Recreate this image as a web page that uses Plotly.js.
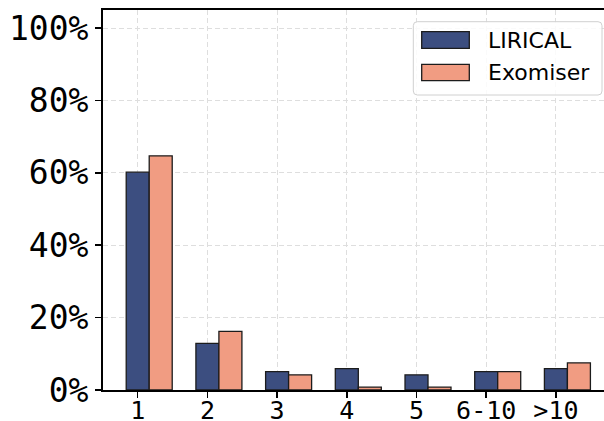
<!DOCTYPE html>
<html>
<head>
<meta charset="utf-8">
<script src="https://cdn.plot.ly/plotly-3.0.1.min.js"></script>
<style>html,body{margin:0;padding:0;background:#fff;}#chart{width:604px;height:421px;}</style>
</head>
<body>
<div id="chart"></div>
<script>
const categories = ["1", "2", "3", "4", "5", "6-10", ">10"];
const liricalName = "LIRICAL";
const exomiserName = "Exomiser";
const liricalValues = [60.2, 12.9, 5.1, 5.9, 4.2, 5.1, 5.9];
const exomiserValues = [64.7, 16.2, 4.2, 0.8, 0.8, 5.1, 7.5];
const yTickValues = [0, 20, 40, 60, 80, 100];
const yTickLabels = ["0%", "20%", "40%", "60%", "80%", "100%"];

const navy = "#3c4e80";
const salmon = "#f19c82";
const edge = "#1c1c1c";

const traces = [
  {type: "bar", name: liricalName, x: categories, y: liricalValues,
   offset: -0.165, width: 0.33,
   marker: {color: navy, line: {color: edge, width: 1.3}}},
  {type: "bar", name: exomiserName, x: categories, y: exomiserValues,
   offset: 0.165, width: 0.33,
   marker: {color: salmon, line: {color: edge, width: 1.3}}}
];

// plot area in pixels
const L = 103, R = 604, T = 10, B = 390;
const px = v => (v - L) / (R - L);
const py = v => (B - v) / (B - T);

function roundRect(x0, y0, x1, y1, r) {
  const rx = r / (R - L), ry = r / (B - T);
  const a = px(x0), b = px(x1), top = py(y0), bot = py(y1);
  return `M${a+rx},${top} L${b-rx},${top} Q${b},${top} ${b},${top-ry} L${b},${bot+ry} Q${b},${bot} ${b-rx},${bot} L${a+rx},${bot} Q${a},${bot} ${a},${bot+ry} L${a},${top-ry} Q${a},${top} ${a+rx},${top} Z`;
}

const shapes = [
  {type: "path", xref: "paper", yref: "paper", path: roundRect(413.3, 21.7, 602, 95, 4),
   fillcolor: "rgba(255,255,255,0.85)", line: {color: "#d0d0d0", width: 1}, layer: "above"},
  {type: "rect", xref: "paper", yref: "paper", x0: px(421.7), x1: px(469.3), y0: py(31.7), y1: py(48.3),
   fillcolor: navy, line: {color: edge, width: 1.3}, layer: "above"},
  {type: "rect", xref: "paper", yref: "paper", x0: px(421.7), x1: px(469.3), y0: py(64.3), y1: py(80.7),
   fillcolor: salmon, line: {color: edge, width: 1.3}, layer: "above"}
];

const annotations = [
  {xref: "paper", yref: "paper", x: px(486), y: py(40), xanchor: "left", yanchor: "middle",
   text: liricalName, showarrow: false, font: {family: "DejaVu Sans", size: 22, color: "#000"}},
  {xref: "paper", yref: "paper", x: px(486), y: py(72.5), xanchor: "left", yanchor: "middle",
   text: exomiserName, showarrow: false, font: {family: "DejaVu Sans", size: 22, color: "#000"}}
];

const layout = {
  width: 604, height: 421,
  margin: {l: L, r: 604 - R, t: T, b: 421 - B, pad: 0},
  paper_bgcolor: "#fff", plot_bgcolor: "#fff",
  barmode: "overlay",
  showlegend: false,
  xaxis: {
    type: "category", range: [-0.498, 6.69],
    showline: true, linecolor: "#000", linewidth: 2, mirror: true,
    ticks: "outside", ticklen: 6, tickwidth: 1.5, tickcolor: "#000",
    ticklabelstandoff: -9,
    showgrid: true, gridcolor: "#dedede", griddash: "5px,3px", gridwidth: 1,
    tickfont: {family: "DejaVu Sans Mono", size: 25, color: "#000"},
    zeroline: false
  },
  yaxis: {
    range: [0, 105],
    tickvals: yTickValues, ticktext: yTickLabels,
    showline: true, linecolor: "#000", linewidth: 2,
    ticks: "outside", ticklen: 6, tickwidth: 1.5, tickcolor: "#000",
    showgrid: true, gridcolor: "#dedede", griddash: "5px,3px", gridwidth: 1,
    tickfont: {family: "DejaVu Sans Mono", size: 33, color: "#000"},
    zeroline: false
  },
  shapes: shapes,
  annotations: annotations
};

Plotly.newPlot("chart", traces, layout, {staticPlot: true, displayModeBar: false});
</script>
</body>
</html>
